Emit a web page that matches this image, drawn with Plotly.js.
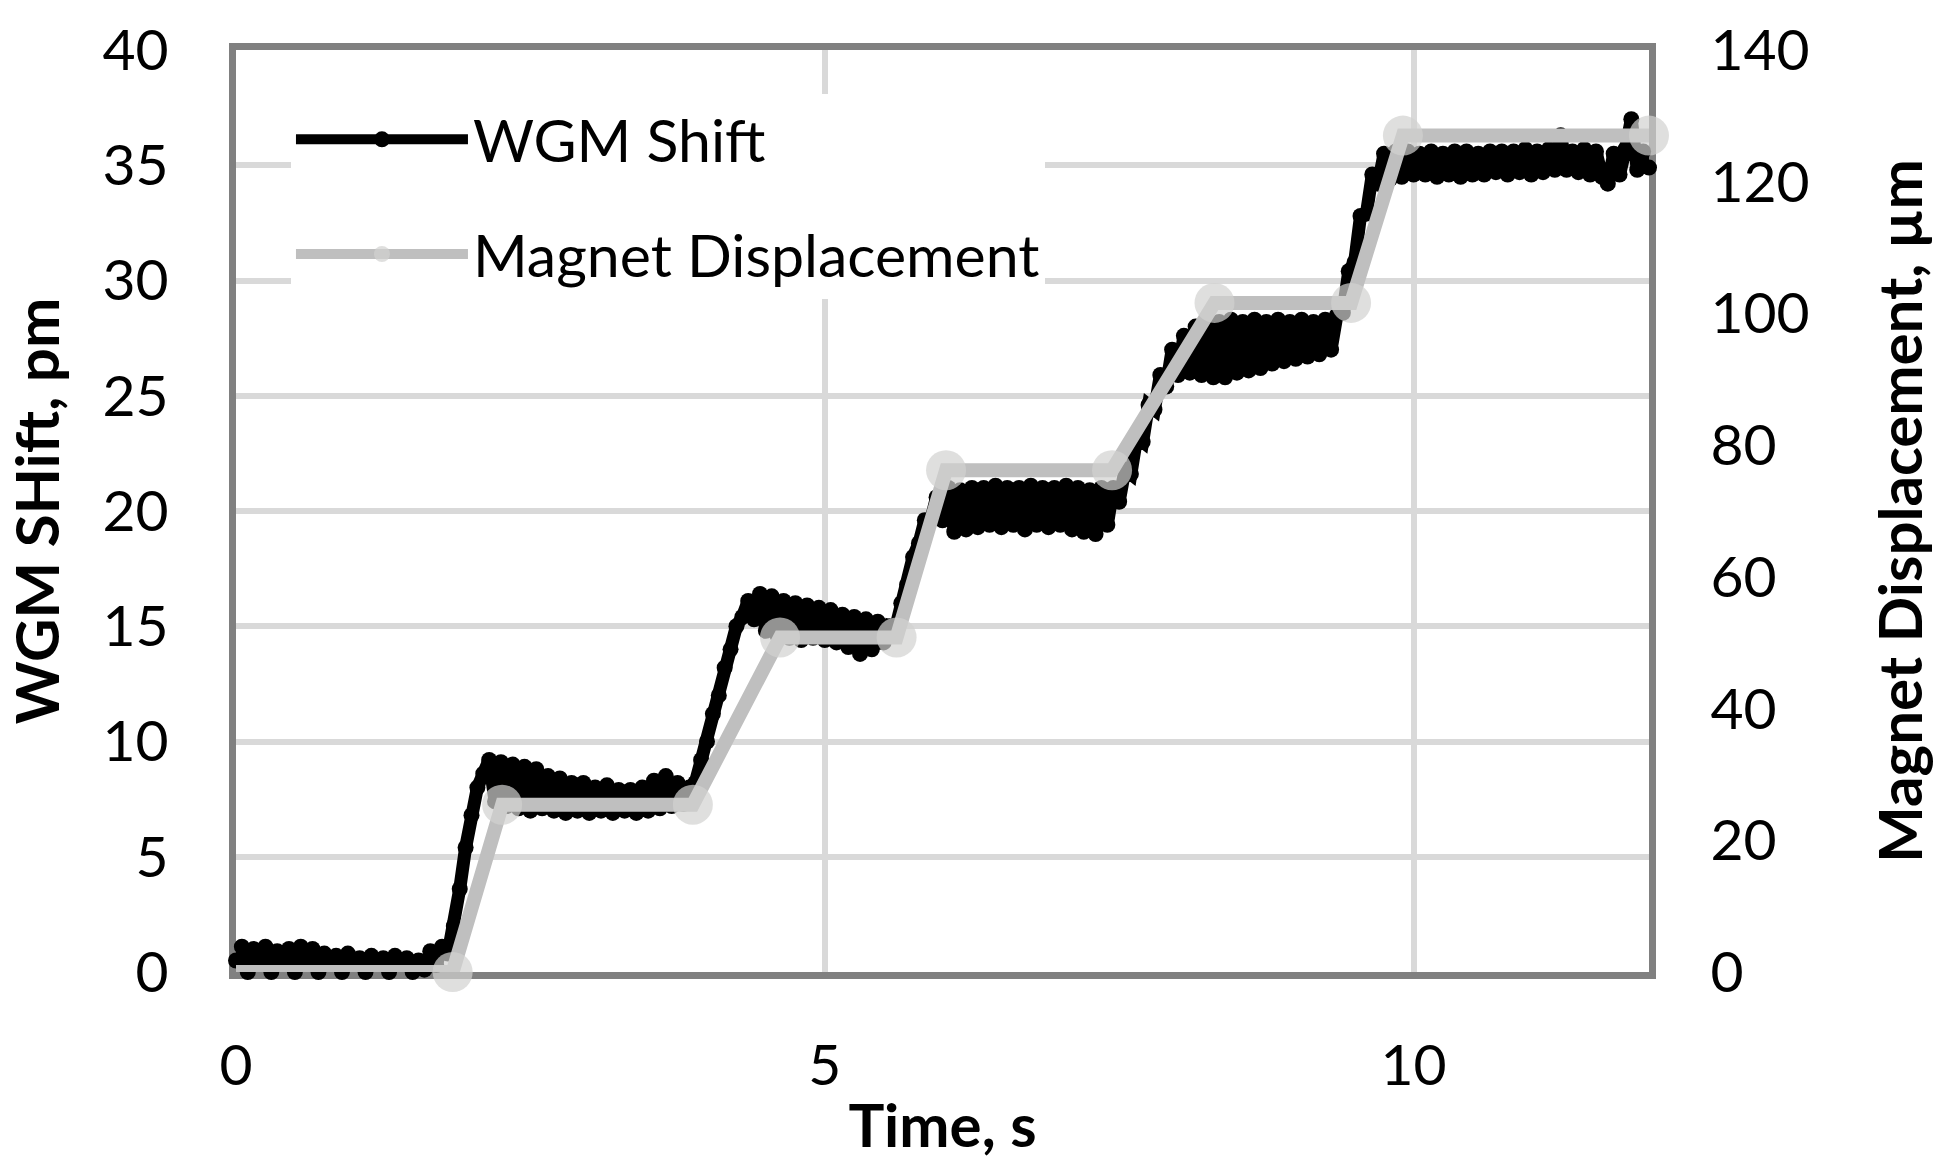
<!DOCTYPE html>
<html><head><meta charset="utf-8">
<script src="https://cdn.plot.ly/plotly-3.0.1.min.js"></script>
<style>html,body{margin:0;padding:0;background:#fff;} #chart{width:1942px;height:1173px;}</style>
</head><body><div id="chart"></div>
<script>
// Time axis of the WGM recording, s
const wgmTime = [
0,0.05,0.1,0.15,0.2,0.25,0.3,0.35,0.4,0.45,0.5,0.55,0.6,0.65,0.7,0.75,0.8,0.85,0.9,0.95,
1,1.05,1.1,1.15,1.2,1.25,1.3,1.35,1.4,1.45,1.5,1.55,1.6,1.65,1.7,1.75,1.8,1.85,1.9,1.95,
2,2.05,2.1,2.15,2.2,2.25,2.3,2.35,2.4,2.45,2.5,2.55,2.6,2.65,2.7,2.75,2.8,2.85,2.9,2.95,
3,3.05,3.1,3.15,3.2,3.25,3.3,3.35,3.4,3.45,3.5,3.55,3.6,3.65,3.7,3.75,3.8,3.85,3.9,3.95,
4,4.05,4.1,4.15,4.2,4.25,4.3,4.35,4.4,4.45,4.5,4.55,4.6,4.65,4.7,4.75,4.8,4.85,4.9,4.95,
5,5.05,5.1,5.15,5.2,5.25,5.3,5.35,5.4,5.45,5.5,5.55,5.6,5.65,5.7,5.75,5.8,5.85,5.9,5.95,
6,6.05,6.1,6.15,6.2,6.25,6.3,6.35,6.4,6.45,6.5,6.55,6.6,6.65,6.7,6.75,6.8,6.85,6.9,6.95,
7,7.05,7.1,7.15,7.2,7.25,7.3,7.35,7.4,7.45,7.5,7.55,7.6,7.65,7.7,7.75,7.8,7.85,7.9,7.95,
8,8.05,8.1,8.15,8.2,8.25,8.3,8.35,8.4,8.45,8.5,8.55,8.6,8.65,8.7,8.75,8.8,8.85,8.9,8.95,
9,9.05,9.1,9.15,9.2,9.25,9.3,9.35,9.4,9.45,9.5,9.55,9.6,9.65,9.7,9.75,9.8,9.85,9.9,9.95,
10,10.05,10.1,10.15,10.2,10.25,10.3,10.35,10.4,10.45,10.5,10.55,10.6,10.65,10.7,10.75,10.8,10.85,10.9,10.95,
11,11.05,11.1,11.15,11.2,11.25,11.3,11.35,11.4,11.45,11.5,11.55,11.6,11.65,11.7,11.75,11.8,11.85,11.9,11.95,
12];

// WGM shift, pm
const wgmShift = [
0.5,1.1,0.0,1.0,-0.1,1.1,0.0,0.9,-0.1,1.0,0.0,1.1,-0.1,1.0,0.0,0.8,-0.1,0.7,0.0,0.8,
-0.1,0.6,0.0,0.7,-0.1,0.6,0.0,0.7,-0.1,0.6,0.0,0.5,0.1,0.9,0.3,1.1,0.8,2.0,3.6,5.4,
6.8,8.0,8.6,9.2,7.4,9.1,7.2,9.0,7.1,8.9,7.0,8.8,7.1,8.5,7.0,8.4,6.9,8.2,7.0,8.2,
6.9,8.0,7.0,8.1,6.9,7.9,7.0,7.9,6.9,8.0,7.0,8.3,7.1,8.5,7.2,8.2,7.3,8.0,8.2,9.2,
10.0,11.2,12.0,13.2,14.0,15.0,15.4,16.1,15.3,16.4,14.8,16.3,14.6,16.1,14.5,16.0,14.4,15.9,14.5,15.8,
14.4,15.7,14.3,15.5,14.1,15.4,13.8,15.3,14.0,15.2,14.3,15.0,14.9,16.0,16.8,18.0,18.6,19.6,19.6,20.6,
19.6,21.0,19.1,20.9,19.2,21.0,19.3,21.0,19.4,21.1,19.3,21.0,19.4,21.0,19.2,21.1,19.4,21.0,19.3,21.0,
19.4,21.1,19.2,21.0,19.1,20.9,19.0,21.0,19.4,21.0,20.4,21.8,21.6,23.2,23.0,24.6,24.4,25.9,25.4,27.0,
25.9,27.6,26.0,28.0,25.9,28.2,25.8,28.2,25.8,28.3,26.0,28.2,26.1,28.3,26.2,28.2,26.4,28.3,26.5,28.2,
26.6,28.3,26.7,28.2,26.8,28.3,27.0,28.5,28.6,30.4,30.8,32.8,32.9,34.6,34.2,35.5,34.4,35.6,34.5,35.6,
34.6,35.5,34.6,35.6,34.5,35.5,34.6,35.6,34.5,35.6,34.6,35.5,34.6,35.6,34.7,35.6,34.6,35.6,34.7,35.7,
34.6,35.6,34.7,35.7,34.8,36.3,34.8,35.6,34.7,35.7,34.6,35.6,34.5,34.2,35.5,34.6,35.7,37.0,34.8,35.6,
34.9];

// Magnet displacement, µm
const magnetTime = [0, 1.84, 2.26, 3.88, 4.62, 5.61, 6.03, 7.44, 8.31, 9.47, 9.91, 12.0];
const magnetDisp = [0, 0, 25.4, 25.4, 50.8, 50.8, 76.2, 76.2, 101.6, 101.6, 127, 127];

const xTickVals = [0, 5, 10];
const yTickVals = [0, 5, 10, 15, 20, 25, 30, 35, 40];
const y2TickVals = [0, 20, 40, 60, 80, 100, 120, 140];

const FONT = 'Lato, "Open Sans", sans-serif';

const traces = [
  {
    type: 'scatter', mode: 'lines+markers', name: 'WGM Shift',
    x: wgmTime, y: wgmShift, xaxis: 'x', yaxis: 'y',
    line: {color: '#000000', width: 13},
    marker: {color: '#000000', size: 16, line: {width: 0}},
    cliponaxis: false, legendgroup: 'a'
  },
  {
    type: 'scatter', mode: 'lines+markers', name: 'Magnet Displacement',
    x: magnetTime, y: magnetDisp, xaxis: 'x', yaxis: 'y2',
    line: {color: '#bfbfbf', width: 14},
    marker: {color: '#d2d2d0', size: magnetTime.map((t, i) => i === 0 ? 0 : 40), line: {width: 0}},
    cliponaxis: false, legendgroup: 'b'
  }
];

const axisCommon = {
  showline: true, linecolor: '#808080', linewidth: 7,
  zeroline: false, ticks: '', automargin: false,
  tickfont: {family: FONT, size: 57, color: '#000'},
  layer: 'below traces'
};

const layout = {
  width: 1942, height: 1173,
  margin: {l: 236, r: 293, t: 50, b: 201, pad: 0},
  paper_bgcolor: '#ffffff', plot_bgcolor: '#ffffff',
  font: {family: FONT, color: '#000'},
  showlegend: true,
  legend: {
    x: 0.0389, y: 0.9518, xanchor: 'left', yanchor: 'top',
    bgcolor: '#ffffff', borderwidth: 0,
    font: {family: FONT, size: 59, color: '#000'},
    itemwidth: 172, traceorder: 'grouped', tracegroupgap: 35
  },
  xaxis: Object.assign({}, axisCommon, {
    range: [0, 12], tickmode: 'array', tickvals: xTickVals,
    showgrid: true, gridcolor: '#d9d9d9', gridwidth: 6, mirror: true,
    ticklabelstandoff: 38,
    title: {text: 'Time, s', font: {family: FONT, size: 60, weight: 'bold', color: '#000'}, standoff: 11}
  }),
  yaxis: Object.assign({}, axisCommon, {
    range: [0, 40], tickmode: 'array', tickvals: yTickVals,
    showgrid: true, gridcolor: '#d9d9d9', gridwidth: 6, mirror: true,
    ticklabelstandoff: 49,
    title: {text: 'WGM SHift, pm', font: {family: FONT, size: 60, weight: 'bold', color: '#000'}, standoff: 44}
  }),
  yaxis2: Object.assign({}, axisCommon, {
    range: [0, 140], tickmode: 'array', tickvals: y2TickVals,
    overlaying: 'y', side: 'right', showgrid: false,
    ticklabelstandoff: 43,
    title: {text: 'Magnet Displacement, µm', font: {family: FONT, size: 60, weight: 'bold', color: '#000'}, standoff: 74}
  })
};

Plotly.newPlot('chart', traces, layout, {displayModeBar: false, responsive: false});
</script>
</body></html>
